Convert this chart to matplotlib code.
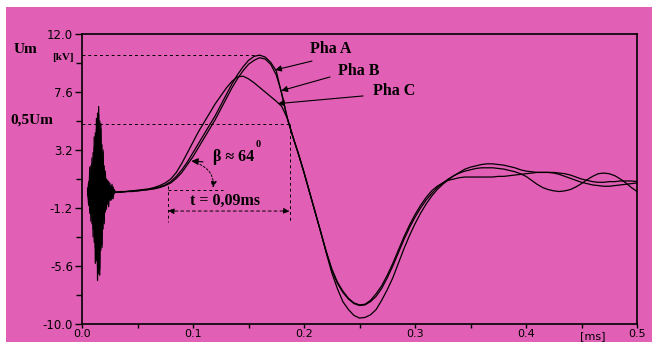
import numpy as np
import matplotlib
matplotlib.use("Agg")
import matplotlib.pyplot as plt
from matplotlib.patches import Rectangle

PINK = '#e160b5'
SERIF = ['Liberation Serif', 'DejaVu Serif']

# switching burst at the start (ms / kV)
burst_t = [0.005, 0.006, 0.007, 0.008, 0.009, 0.010, 0.011, 0.012, 0.013, 0.014,
           0.015, 0.016, 0.017, 0.018, 0.019, 0.020, 0.021, 0.022, 0.023, 0.024,
           0.025, 0.026, 0.027, 0.028, 0.029]
burst_a = [0.3, -1.0, 1.9, -2.2, 2.6, -3.4, 4.2, -5.4, 5.6, -6.7,
           6.5, -5.8, 4.8, -4.2, 3.2, -2.4, 1.6, -1.3, 0.8, -1.1,
           0.7, -0.6, 0.6, -0.5, 0.2]
burst_b = [-0.2, 0.8, -1.6, 2.0, -2.4, 3.0, -3.8, 4.5, -5.2, 6.0,
           -6.2, 5.4, -4.4, 3.6, -2.8, 2.0, -1.5, 1.0, -0.9, 0.8,
           -0.6, 0.5, -0.5, 0.4, -0.1]
burst_c = [0.1, -0.6, 1.2, -1.7, 2.2, -2.8, 3.4, -4.2, 4.8, -5.6,
           5.9, -6.3, 5.2, -4.0, 3.0, -2.2, 1.4, -1.0, 0.9, -0.7,
           0.5, -0.6, 0.4, -0.3, 0.1]

main_t = [0.030, 0.035, 0.040, 0.045, 0.050, 0.055, 0.060, 0.065, 0.070, 0.075,
          0.080, 0.085, 0.090, 0.095, 0.100, 0.105, 0.110, 0.115, 0.120, 0.125,
          0.130, 0.135, 0.140, 0.145, 0.150, 0.155, 0.160, 0.165, 0.170, 0.175,
          0.180, 0.185, 0.190, 0.195, 0.200, 0.205, 0.210, 0.215, 0.220, 0.225,
          0.230, 0.235, 0.240, 0.245, 0.250, 0.255, 0.260, 0.265, 0.270, 0.275,
          0.280, 0.285, 0.290, 0.295, 0.300, 0.305, 0.310, 0.315, 0.320, 0.325,
          0.330, 0.335, 0.340, 0.345, 0.350, 0.355, 0.360, 0.365, 0.370, 0.375,
          0.380, 0.385, 0.390, 0.395, 0.400, 0.405, 0.410, 0.415, 0.420, 0.425,
          0.430, 0.435, 0.440, 0.445, 0.450, 0.455, 0.460, 0.465, 0.470, 0.475,
          0.480, 0.485, 0.490, 0.495, 0.500]
pha_a = [0.0, 0.0, 0.05, 0.1, 0.1, 0.15, 0.2, 0.3, 0.4, 0.55,
         0.8, 1.2, 1.7, 2.3, 3.0, 3.7, 4.4, 5.1, 5.8, 6.6,
         7.4, 8.2, 8.9, 9.5, 10.0, 10.3, 10.4, 10.25, 9.85, 9.2,
         7.4, 5.6, 4.2, 2.9, 1.5, 0.0, -1.5, -3.0, -4.6, -6.1,
         -7.3, -8.3, -8.9, -9.35, -9.55, -9.5, -9.3, -8.9, -8.2, -7.4,
         -6.5, -5.4, -4.3, -3.3, -2.4, -1.6, -0.9, -0.3, 0.2, 0.6,
         0.95, 1.25, 1.5, 1.75, 1.9, 2.0, 2.1, 2.15, 2.15, 2.1,
         2.05, 1.95, 1.85, 1.7, 1.6, 1.55, 1.5, 1.5, 1.5, 1.5,
         1.45, 1.4, 1.3, 1.15, 1.0, 0.9, 0.8, 0.75, 0.75, 0.8,
         0.8, 0.85, 0.85, 0.85, 0.8]
pha_b = [0.0, 0.0, 0.05, 0.05, 0.1, 0.15, 0.2, 0.25, 0.35, 0.5,
         0.7, 1.05, 1.5, 2.1, 2.7, 3.4, 4.1, 4.8, 5.5, 6.3,
         7.1, 7.9, 8.6, 9.2, 9.7, 10.0, 10.2, 10.1, 9.7, 8.9,
         7.5, 5.6, 4.2, 2.9, 1.5, 0.0, -1.5, -3.0, -4.5, -5.9,
         -6.9, -7.6, -8.1, -8.45, -8.6, -8.55, -8.3, -7.9, -7.3, -6.5,
         -5.6, -4.6, -3.6, -2.7, -1.9, -1.2, -0.6, -0.1, 0.35, 0.7,
         1.0, 1.25, 1.45, 1.6, 1.7, 1.8, 1.85, 1.85, 1.85, 1.8,
         1.75, 1.65, 1.55, 1.4, 1.2, 0.9, 0.6, 0.35, 0.2, 0.1,
         0.05, 0.1, 0.2, 0.4, 0.65, 0.95, 1.2, 1.4, 1.45, 1.4,
         1.25, 1.0, 0.7, 0.35, 0.05]
pha_c = [0.0, 0.05, 0.05, 0.1, 0.15, 0.2, 0.25, 0.35, 0.5, 0.7,
         1.0, 1.5, 2.2, 3.0, 3.8, 4.6, 5.3, 6.0, 6.7, 7.3,
         7.9, 8.4, 8.75, 8.8, 8.6, 8.3, 7.95, 7.6, 7.25, 6.9,
         6.5, 5.6, 4.2, 2.9, 1.5, 0.0, -1.5, -3.0, -4.5, -5.8,
         -6.8, -7.5, -8.05, -8.4, -8.55, -8.5, -8.2, -7.7, -7.1, -6.3,
         -5.4, -4.4, -3.4, -2.5, -1.7, -1.0, -0.4, 0.1, 0.45, 0.7,
         0.9, 1.0, 1.1, 1.15, 1.15, 1.15, 1.15, 1.15, 1.15, 1.2,
         1.2, 1.25, 1.3, 1.35, 1.4, 1.45, 1.5, 1.5, 1.5, 1.45,
         1.35, 1.2, 1.05, 0.9, 0.75, 0.65, 0.55, 0.5, 0.45, 0.45,
         0.5, 0.55, 0.6, 0.65, 0.7]

x_ticks = [0.0, 0.1, 0.2, 0.3, 0.4, 0.5]
x_tick_labels = ['0.0', '0.1', '0.2', '0.3', '0.4', '0.5']
x_minor = [0.05, 0.15, 0.25, 0.35, 0.45]
y_ticks = [-10.0, -5.6, -1.2, 3.2, 7.6, 12.0]
y_tick_labels = ['-10.0', '-5.6', '-1.2', '3.2', '7.6', '12.0']
y_minor = [-7.8, -3.4, 1.0, 5.4, 9.8]

T_FRONT = 0.0775   # start of the front
T_HALF = 0.187     # 0.5Um on the tail
V_BASE = 0.16

fig = plt.figure(figsize=(6.59, 3.42), dpi=100)
fig.patch.set_facecolor('white')
fig.patches.append(Rectangle((6 / 659, 0), 646 / 659, 335 / 342, transform=fig.transFigure,
                             facecolor=PINK, edgecolor='none', zorder=-10))
ax = fig.add_axes([82 / 659, 18 / 342, 555 / 659, 290 / 342])
ax.set_facecolor('none')
ax.set_xlim(0, 0.5)
ax.set_ylim(-10, 12)

for bv, mv in [(burst_a, pha_a), (burst_b, pha_b), (burst_c, pha_c)]:
    ax.plot(burst_t + main_t, bv + mv, color='black', lw=0.9)

ax.set_xticks(x_ticks)
ax.set_xticklabels(x_tick_labels)
ax.set_xticks(x_minor, minor=True)
ax.set_yticks(y_ticks)
ax.set_yticklabels(y_tick_labels)
ax.set_yticks(y_minor, minor=True)
ax.tick_params(which='both', direction='out', width=1, labelsize=8.5)
ax.tick_params(axis='y', which='major', length=5, pad=1.5)
ax.tick_params(axis='y', which='minor', length=4)
ax.tick_params(axis='x', which='major', length=3, pad=0.5, labelsize=8)
ax.tick_params(axis='x', which='minor', length=3)
ax.tick_params(top=False, right=False)
for s in ax.spines.values():
    s.set_linewidth(1.2)

# Um / 0.5Um guides
um = max(pha_a)
t_peak = main_t[pha_a.index(um)]
dash = dict(color='black', lw=0.7, ls=(0, (3, 3)))
ax.plot([0, t_peak], [um, um], **dash)
ax.plot([0, T_HALF], [um / 2, um / 2], **dash)
ax.plot([T_HALF, T_HALF], [um / 2, -2.3], **dash)
ax.plot([T_FRONT, 0.127], [V_BASE, V_BASE], **dash)
ax.plot([T_FRONT, T_FRONT], [0.47, -2.3], **dash)
ax.annotate('', xy=(T_HALF, -1.43), xytext=(T_FRONT, -1.43),
            arrowprops=dict(arrowstyle='<|-|>', color='black', lw=0.7, ls=(0, (3, 3)),
                            mutation_scale=9, shrinkA=0, shrinkB=0))
ax.text(0.129, -0.67, 't = 0,09ms', family=SERIF, weight='bold', fontsize=11.5,
        ha='center', va='center')

# angle
ax.annotate('', xy=(0.0985, 2.36), xytext=(0.109, 2.3),
            arrowprops=dict(arrowstyle='-|>', color='black', lw=0.8, mutation_scale=10,
                            shrinkA=0, shrinkB=0))
ax.annotate('', xy=(0.118, 0.35), xytext=(0.1063, 2.1),
            arrowprops=dict(arrowstyle='-|>', color='black', lw=0.7, ls=(0, (2, 2)),
                            mutation_scale=9, shrinkA=0, shrinkB=0,
                            connectionstyle='arc3,rad=-0.35'))
ax.text(0.118, 2.67, 'β ≈ 64', family=SERIF, weight='bold', fontsize=11.5,
        ha='left', va='center')
ax.text(0.1586, 3.6, '0', family=SERIF, weight='bold', fontsize=7.5,
        ha='center', va='center')

# phase labels
labels = [('Pha A', (0.2054, 10.86), (0.2072, 9.95), (0.174, 9.27)),
          ('Pha B', (0.2306, 9.19), (0.2234, 8.74), (0.1795, 7.7)),
          ('Pha C', (0.2622, 7.68), (0.2532, 7.3), (0.1766, 6.72))]
for name, pos, tail, tip in labels:
    ax.text(pos[0], pos[1], name, family=SERIF, weight='bold', fontsize=11.5,
            ha='left', va='center')
    ax.annotate('', xy=tip, xytext=tail,
                arrowprops=dict(arrowstyle='-|>', color='black', lw=0.8, mutation_scale=9,
                                shrinkA=0, shrinkB=0))

ax.text(-0.0505, 10.79, 'Um', family=SERIF, weight='bold', fontsize=11,
        ha='center', va='center', clip_on=False)
ax.text(-0.0171, 10.18, '[kV]', family=SERIF, weight='bold', fontsize=8,
        ha='center', va='center', clip_on=False)
ax.text(-0.045, 5.47, '0,5Um', family=SERIF, weight='bold', fontsize=11,
        ha='center', va='center', clip_on=False)
ax.text(0.4604, -10.95, '[ms]', fontsize=8, ha='center', va='center', clip_on=False)

fig.savefig('out.png', dpi=100, facecolor=fig.get_facecolor())
